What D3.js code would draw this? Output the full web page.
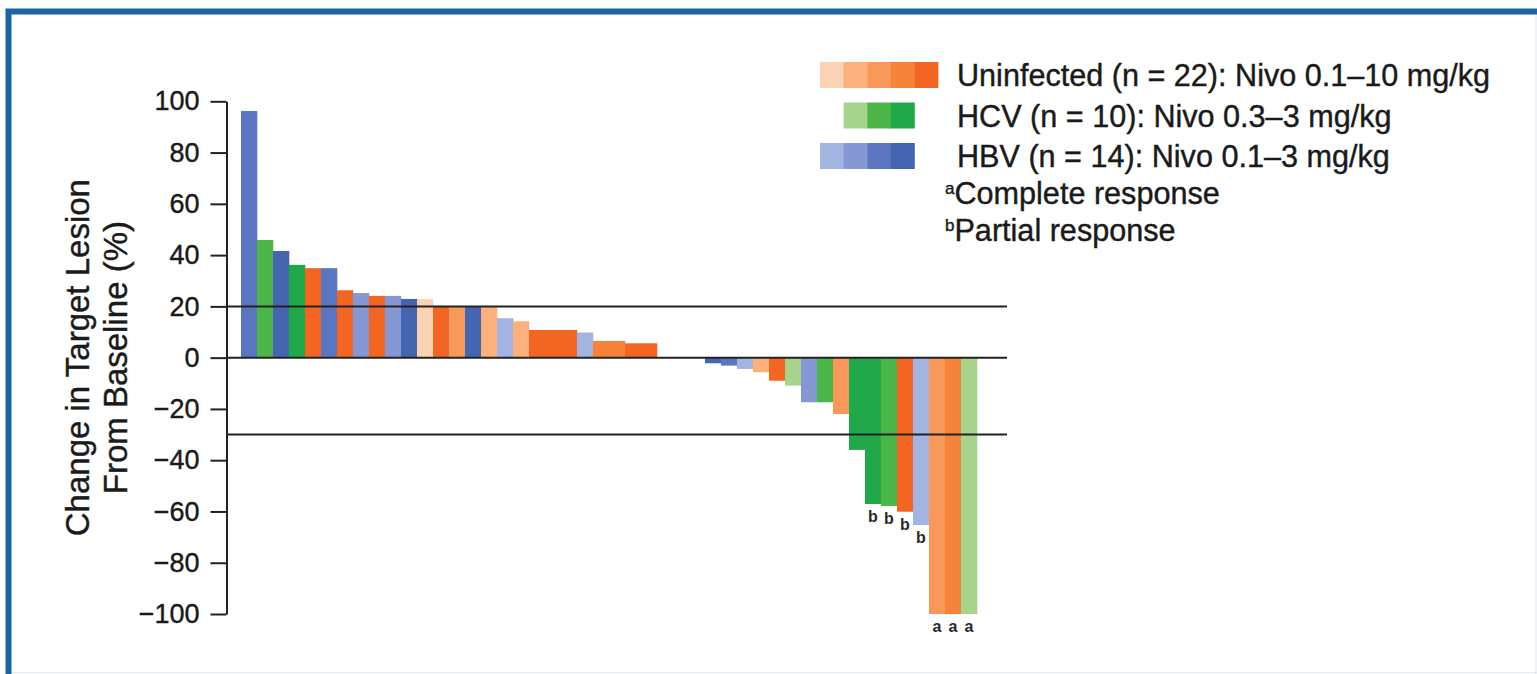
<!DOCTYPE html>
<html>
<head>
<meta charset="utf-8">
<script src="https://cdn.jsdelivr.net/npm/d3@7"></script>
<style>
  body { margin: 0; background: #fff; }
  svg { display: block; font-family: "Liberation Sans", Arial, Helvetica, sans-serif; }
</style>
</head>
<body>
<svg id="chart"></svg>
<script>
const W = 1537, H = 674;

// best % change from baseline, one entry per patient (waterfall order)
const values = [96.2, 45.9, 41.6, 36.2, 34.9, 34.9, 26.3, 25.2, 24.1, 24.1, 22.9, 22.8,
  20, 20, 20, 20, 15.4, 14.2, 10.8, 10.8, 10.8, 9.8, 6.5, 6.5, 5.6, 5.6,
  0, 0, 0,
  -2.2, -3.1, -4.4, -5.7, -9.0, -10.9, -17.4, -17.4, -22, -36, -57.1, -57.9, -60.1, -65.3,
  -100, -100, -100];
const cohort = ["HBV", "HCV", "HBV", "HCV", "Uninfected", "HBV", "Uninfected", "HBV", "Uninfected", "HBV", "HBV", "Uninfected",
  "Uninfected", "Uninfected", "HBV", "Uninfected", "HBV", "Uninfected", "Uninfected", "Uninfected", "Uninfected", "HBV", "Uninfected", "Uninfected", "Uninfected", "Uninfected",
  "Uninfected", "HCV", "HCV",
  "HBV", "HBV", "HBV", "Uninfected", "Uninfected", "HCV", "HBV", "HCV", "Uninfected", "HCV", "HCV", "HCV", "Uninfected", "HBV",
  "Uninfected", "Uninfected", "HCV"];
// dose level within the cohort (0 = lowest dose)
const doseLevel = [2, 1, 3, 2, 4, 2, 4, 1, 4, 1, 3, 0,
  4, 2, 3, 1, 0, 1, 4, 4, 4, 0, 3, 3, 4, 4,
  0, 0, 0,
  3, 2, 0, 1, 4, 0, 1, 1, 2, 2, 2, 1, 4, 0,
  2, 3, 0];
const response = ["", "", "", "", "", "", "", "", "", "", "", "",
  "", "", "", "", "", "", "", "", "", "", "", "", "", "",
  "", "", "",
  "", "", "", "", "", "", "", "", "", "", "b", "b", "b", "b",
  "a", "a", "a"];
const yTicks = [100, 80, 60, 40, 20, 0, -20, -40, -60, -80, -100];
const refLines = [20, 0, -30];
const legendRows = [
  { key: "Uninfected", label: "Uninfected (n = 22): Nivo 0.1–10 mg/kg", skip: 0 },
  { key: "HCV", label: "HCV (n = 10): Nivo 0.3–3 mg/kg", skip: 1 },
  { key: "HBV", label: "HBV (n = 14): Nivo 0.1–3 mg/kg", skip: 0 }
];
const footnotes = [["a", "Complete response"], ["b", "Partial response"]];

const palette = {
  Uninfected: ["#fdd3b5", "#fbb07e", "#f8995b", "#f5843a", "#f26522"],
  HCV: ["#a6d48c", "#4cb748", "#21a84a"],
  HBV: ["#a3b4e0", "#8698d3", "#5b75c1", "#4565b0"]
};
const ink = "#1a1a1a";

const svg = d3.select("#chart").attr("width", W).attr("height", H);
svg.append("rect").attr("width", W).attr("height", H).attr("fill", "#fff");

// frame
svg.append("line").attr("x1", 1536).attr("x2", 1536).attr("y1", 12).attr("y2", H)
  .attr("stroke", "#dfe7ef").attr("stroke-width", 1);
svg.append("line").attr("x1", 8).attr("x2", W).attr("y1", 672.5).attr("y2", 672.5)
  .attr("stroke", "#e3e9ef").attr("stroke-width", 1);
svg.append("path").attr("d", `M8.5,${H} V11.5 H${W}`)
  .attr("fill", "none").attr("stroke", "#1f63a7").attr("stroke-width", 6);

const x = d3.scaleBand().domain(d3.range(values.length)).range([241, 977]).padding(0);
const y = d3.scaleLinear().domain([-100, 100]).range([614, 101.3]);
const axisX = 226.5;

// bars
svg.append("g").selectAll("rect")
  .data(values)
  .join("rect")
  .attr("x", (d, i) => x(i))
  .attr("width", x.bandwidth() + 0.3)
  .attr("y", d => y(Math.max(0, d)))
  .attr("height", d => Math.abs(y(d) - y(0)))
  .attr("fill", (d, i) => palette[cohort[i]][doseLevel[i]]);

// response letters
svg.append("g").selectAll("text")
  .data(values)
  .join("text")
  .attr("x", (d, i) => x(i) + x.bandwidth() / 2)
  .attr("y", d => y(d) + 18)
  .attr("text-anchor", "middle")
  .attr("font-size", 16)
  .attr("font-weight", "bold")
  .attr("fill", "#2a2a2a")
  .text((d, i) => response[i]);

// reference lines
svg.append("g").selectAll("line")
  .data(refLines)
  .join("line")
  .attr("x1", axisX)
  .attr("x2", x.range()[1] + 30)
  .attr("y1", d => y(d))
  .attr("y2", d => y(d))
  .attr("stroke", "#222")
  .attr("stroke-width", 2);

// y axis
const yAxis = svg.append("g")
  .attr("transform", `translate(${axisX},0)`)
  .call(d3.axisLeft(y).tickValues(yTicks).tickSize(16).tickSizeOuter(0).tickPadding(11));
yAxis.select(".domain").attr("stroke", "#222").attr("stroke-width", 2);
yAxis.selectAll(".tick line").attr("stroke", "#222").attr("stroke-width", 2);
yAxis.selectAll(".tick text")
  .attr("font-size", 27)
  .attr("font-family", "'Liberation Sans', Arial, sans-serif")
  .attr("fill", ink)
  .attr("stroke", ink).attr("stroke-width", 0.4);

// y title
const yTitle = svg.append("text")
  .attr("transform", `translate(0,${y(0)}) rotate(-90)`)
  .attr("text-anchor", "middle")
  .attr("font-size", 33)
  .attr("fill", ink)
  .attr("stroke", ink).attr("stroke-width", 0.4);
yTitle.append("tspan").attr("x", 0).attr("y", 89).text("Change in Target Lesion");
yTitle.append("tspan").attr("x", 0).attr("y", 127).text("From Baseline (%)");

// legend
const segW = 23.6, segH = 26, swatchX = 820, textX = 957;
const legend = svg.append("g");
legendRows.forEach((row, r) => {
  const base = 86 + r * 40.5;
  const g = legend.append("g");
  g.selectAll("rect")
    .data(palette[row.key])
    .join("rect")
    .attr("x", (c, k) => swatchX + (k + row.skip) * segW)
    .attr("y", base - 24)
    .attr("width", segW + 0.4)
    .attr("height", segH)
    .attr("fill", c => c);
  g.append("text")
    .attr("x", textX)
    .attr("y", base)
    .attr("font-size", 30.6)
    .attr("fill", ink)
    .attr("stroke", ink).attr("stroke-width", 0.4)
    .text(row.label);
});
footnotes.forEach(([sup, label], k) => {
  const t = legend.append("text")
    .attr("x", 945)
    .attr("y", 204 + k * 37)
    .attr("font-size", 30.6)
    .attr("fill", ink)
    .attr("stroke", ink).attr("stroke-width", 0.4);
  t.append("tspan").attr("font-size", 17).attr("dy", -10).text(sup);
  t.append("tspan").attr("dy", 10).text(label);
});
</script>
</body>
</html>
